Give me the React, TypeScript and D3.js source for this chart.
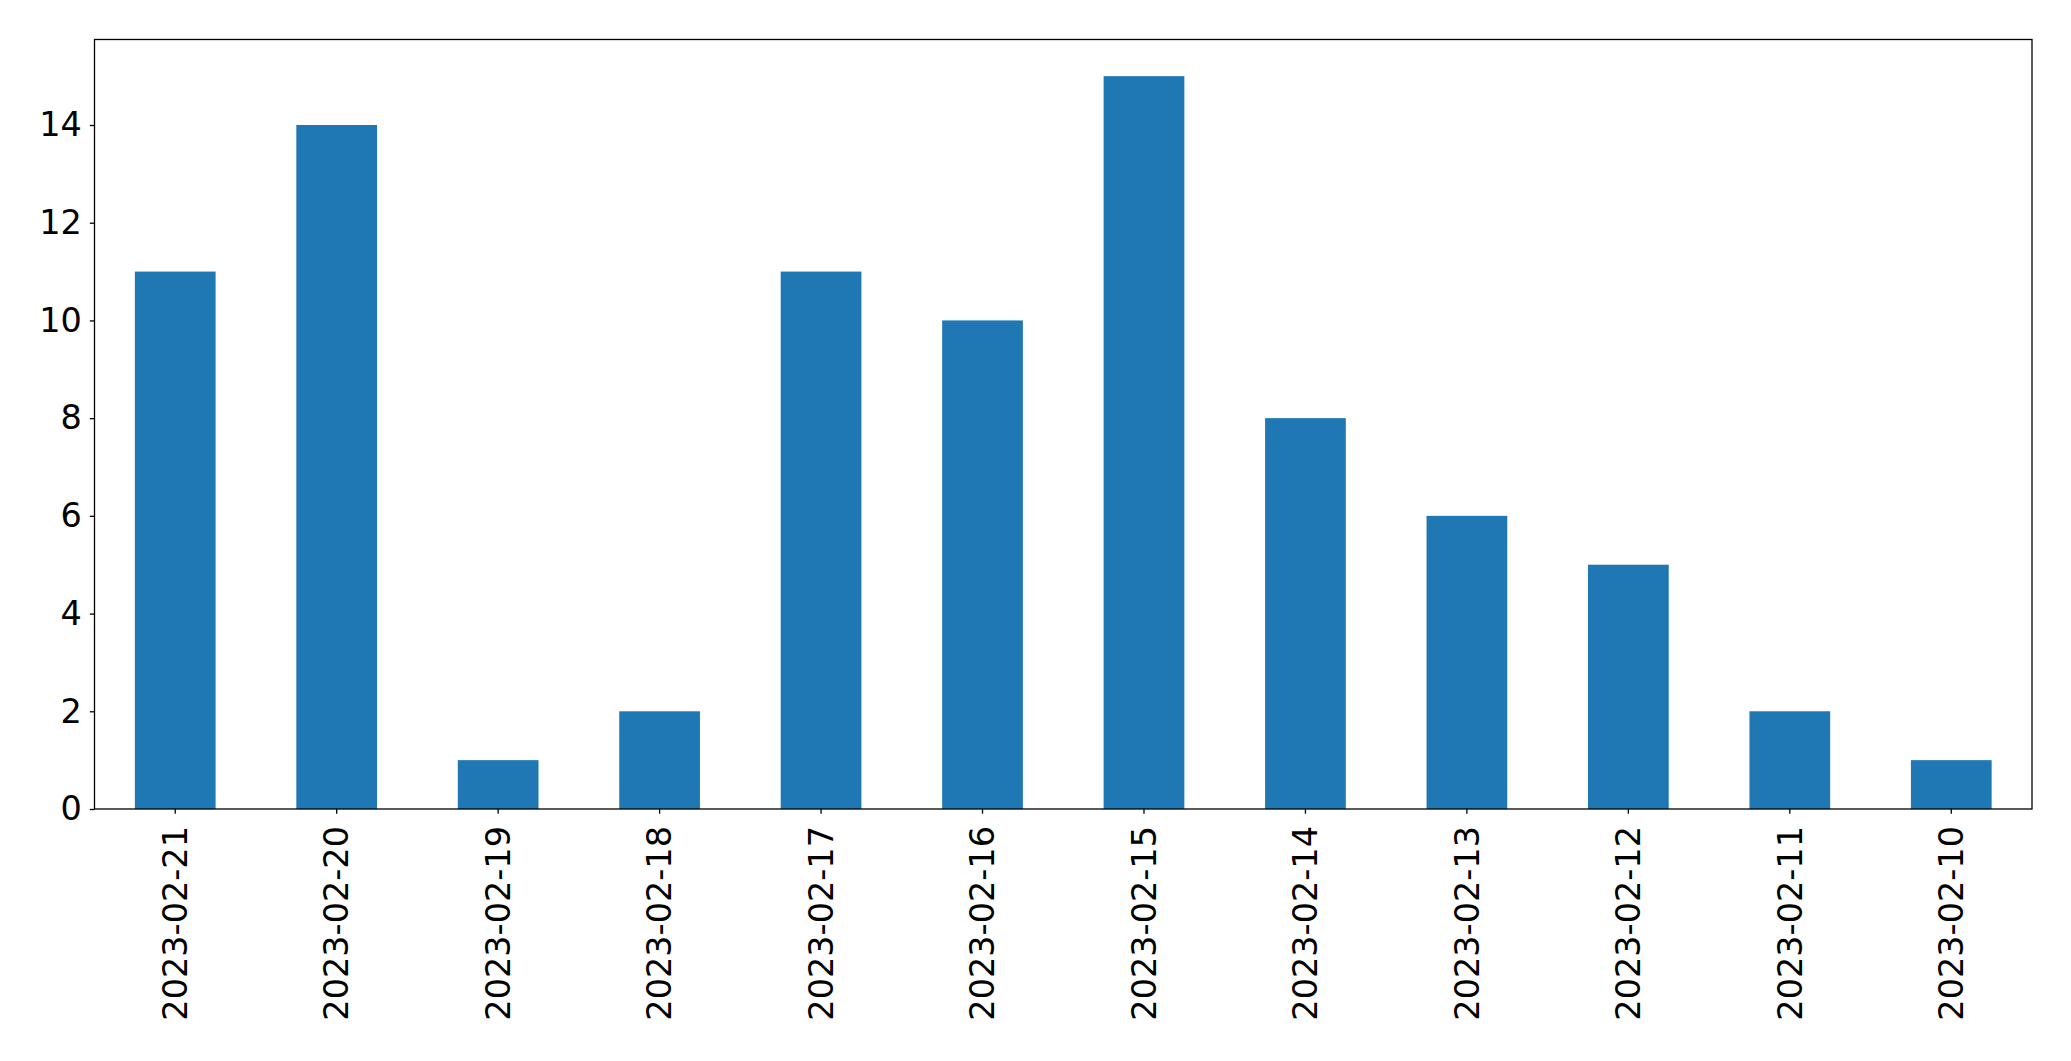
import React, { useEffect, useRef } from 'react';
import * as d3 from 'd3';

const dates = [
  '2023-02-21', '2023-02-20', '2023-02-19', '2023-02-18', '2023-02-17', '2023-02-16',
  '2023-02-15', '2023-02-14', '2023-02-13', '2023-02-12', '2023-02-11', '2023-02-10',
];
const counts = [11, 14, 1, 2, 11, 10, 15, 8, 6, 5, 2, 1];
const yTicks = [0, 2, 4, 6, 8, 10, 12, 14];

const WIDTH = 2071;
const HEIGHT = 1061;

const App: React.FC = () => {
  const svgRef = useRef<SVGSVGElement>(null);

  useEffect(() => {
    if (!svgRef.current) return;
    const svg = d3.select(svgRef.current);
    svg.selectAll('*').remove();

    const margin = { top: 39.5, right: 39, bottom: 252, left: 94.5 };
    const innerWidth = WIDTH - margin.left - margin.right;
    const innerHeight = HEIGHT - margin.top - margin.bottom;
    const font = 'DejaVu Sans, sans-serif';
    const fontSize = 33.5;

    const g = svg
      .append('g')
      .attr('transform', `translate(${margin.left},${margin.top})`);

    // matplotlib-style band: xlim -0.5..n-0.5, bar width 0.5
    const xScale = d3
      .scaleBand()
      .domain(dates)
      .range([0, innerWidth])
      .paddingInner(0.5)
      .paddingOuter(0.25);

    const yMax = (d3.max(counts) || 0) * 1.05;
    const yScale = d3.scaleLinear().domain([0, yMax]).range([innerHeight, 0]);

    // Bars
    g.append('g')
      .selectAll('rect')
      .data(counts)
      .join('rect')
      .attr('x', (_, i) => xScale(dates[i]) || 0)
      .attr('y', (d) => yScale(d))
      .attr('width', xScale.bandwidth())
      .attr('height', (d) => innerHeight - yScale(d))
      .attr('fill', '#1f77b4');

    // Y axis
    const yAxis = g
      .append('g')
      .call(d3.axisLeft(yScale).tickValues(yTicks).tickFormat(d3.format('d')).tickSize(4.7).tickPadding(8));
    yAxis.select('.domain').remove();
    yAxis.selectAll('.tick line').attr('stroke', '#000').attr('stroke-width', 1.3);
    yAxis
      .selectAll('text')
      .attr('fill', '#000')
      .attr('font-size', fontSize)
      .attr('font-family', font);

    // X axis
    const xAxis = g
      .append('g')
      .attr('transform', `translate(0,${innerHeight})`)
      .call(d3.axisBottom(xScale).tickSize(4.7).tickPadding(0));
    xAxis.select('.domain').remove();
    xAxis.selectAll('.tick line').attr('stroke', '#000').attr('stroke-width', 1.3);
    xAxis
      .selectAll('text')
      .attr('fill', '#000')
      .attr('font-size', fontSize)
      .attr('font-family', font)
      .attr('text-anchor', 'end')
      .attr('dy', '0.35em')
      .attr('x', 0)
      .attr('y', 0)
      .attr('transform', 'translate(0,17) rotate(-90)');

    // Frame
    g.append('rect')
      .attr('x', 0)
      .attr('y', 0)
      .attr('width', innerWidth)
      .attr('height', innerHeight)
      .attr('fill', 'none')
      .attr('stroke', '#000')
      .attr('stroke-width', 1.3);
  }, []);

  return (
    <svg
      ref={svgRef}
      width={WIDTH}
      height={HEIGHT}
      style={{ position: 'absolute', left: 0, top: 0, background: '#fff' }}
    />
  );
};

export default App;
